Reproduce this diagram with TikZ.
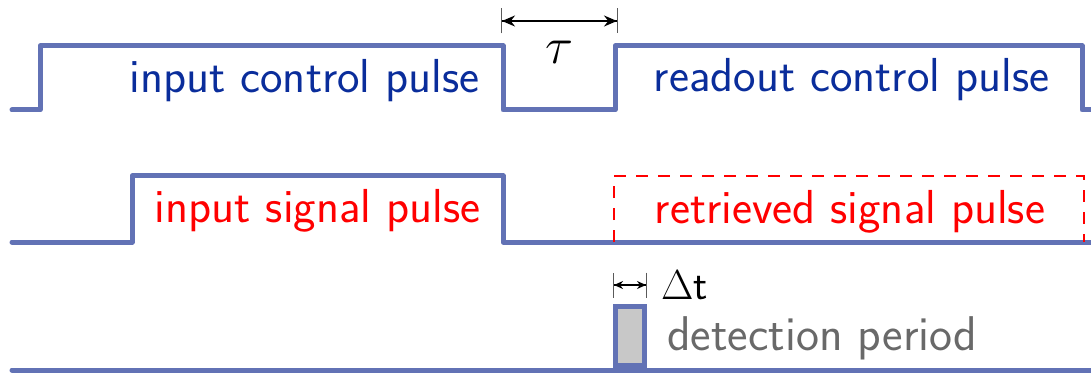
\RequirePackage{fix-cm}
\documentclass[tikz,border=0pt]{standalone}
\usepackage{fontspec}
\usetikzlibrary{arrows.meta}
\definecolor{trace}{RGB}{98,114,181}
\definecolor{ctrlblue}{RGB}{10,45,155}
\definecolor{detgray}{RGB}{105,105,105}
\definecolor{boxgray}{RGB}{200,200,200}
\definecolor{tickgray}{RGB}{90,90,90}
\tikzset{
  tracestyle/.style={draw=trace,line width=5pt,line join=round,line cap=round},
  lbl/.style={font=\sffamily\fontsize{47.7}{56}\selectfont,anchor=base,inner sep=0pt},
  bigdim/.style={{Bar[width=25pt,line width=1pt,color=tickgray]Stealth[length=13pt,width=11pt]}-{Stealth[length=13pt,width=11pt]Bar[width=25pt,line width=1pt,color=tickgray]},line width=1.6pt},
  smalldim/.style={{Bar[width=25pt,line width=1pt,color=tickgray]Stealth[length=9pt,width=8pt]}-{Stealth[length=9pt,width=8pt]Bar[width=25pt,line width=1pt,color=tickgray]},line width=1.6pt},
}
\begin{document}
\begin{tikzpicture}[x=1pt,y=-1pt]
\useasboundingbox (0,0) rectangle (1091,374);
% control pulses
\draw[tracestyle] (12,110) -- (40,110) -- (40,46) -- (503,46) -- (503,110) -- (615,110) -- (615,46) -- (1082,46) -- (1082,110) -- (1094,110);
% signal pulse
\draw[tracestyle] (12,242) -- (132,242) -- (132,176) -- (503,176) -- (503,242) -- (1094,242);
% retrieved signal (dashed)
\draw[red,line width=1.5pt,dash pattern=on 12pt off 10pt] (614,242) -- (614,176) -- (1084,176) -- (1084,242);
% detection baseline
\draw[tracestyle] (12,370) -- (1094,370);
\node[draw=trace,line width=5pt,fill=boxgray,minimum width=29pt,minimum height=59pt,inner sep=0pt,anchor=south] (det) at (630,368) {};
% labels
\node[lbl,text=ctrlblue] (inctrl) at (304.5,93) {input control pulse};
\node[lbl,text=ctrlblue] (rdctrl) at (851.5,92) {readout control pulse};
\node[lbl,text=red] (insig) at (317.5,222) {input signal pulse};
\node[lbl,text=red] (retsig) at (850,223) {retrieved signal pulse};
\node[lbl,font=\sffamily\fontsize{48.8}{56}\selectfont,text=detgray,anchor=base west] (detlbl) at (667,350) {detection period};
% tau
\coordinate (tauL) at (501,21);
\coordinate (tauR) at (618,21);
\draw[bigdim] (tauL) -- (tauR);
\node[font=\fontsize{52}{60}\selectfont,inner sep=0pt,anchor=base] (tau) at (559,64) {$\tau$};
% delta t
\coordinate (dtL) at (613,285);
\coordinate (dtR) at (647,285);
\draw[smalldim] (dtL) -- (dtR);
\node[font=\sffamily\fontsize{42}{50}\selectfont,inner sep=0pt,anchor=base west] (dt) at (661,299) {$\Delta$t};
\end{tikzpicture}
\end{document}
